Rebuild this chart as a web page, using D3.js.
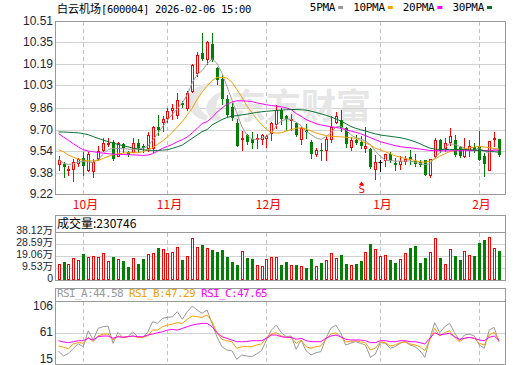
<!DOCTYPE html>
<html>
<head>
<meta charset="utf-8">
<script src="https://cdn.jsdelivr.net/npm/d3@7"></script>
<style>
  body { margin: 0; background: #fff; }
  svg { display: block; }
  .mono { font-family: "DejaVu Sans Mono", monospace; font-size: 11px; letter-spacing: -0.62px; }
  .lbl { font-family: "Liberation Sans", Arial, "Noto Sans CJK SC", sans-serif; font-size: 12px; }
  .cjk { font-family: "Noto Sans CJK SC", sans-serif; }
</style>
</head>
<body>
<script>

// ---- data ----
var priceTicks = [9.22, 9.38, 9.54, 9.70, 9.86, 10.03, 10.19, 10.35, 10.51];
var volTicks = [0, 9.53, 19.06, 28.59, 38.12];
var volTickText = ["0", "9.53万", "19.06万", "28.59万", "38.12万"];
var rsiTicks = [15, 61, 106];
var monthIdx = [5, 22, 42, 65, 85];
var monthNames = ["10月", "11月", "12月", "1月", "2月"];

var open = [9.44, 9.44, 9.40, 9.41, 9.45, 9.49, 9.40, 9.39, 9.49, 9.55,
  9.59, 9.61, 9.50, 9.59, 9.53, 9.53, 9.60, 9.58, 9.56, 9.56,
  9.72, 9.76, 9.79, 9.85, 9.81, 9.90, 9.86, 9.99, 10.12, 10.27,
  10.23, 10.34, 10.16, 10.08, 9.93, 9.87, 9.75, 9.63, 9.66, 9.63,
  9.63, 9.63, 9.64, 9.675, 9.74, 9.85, 9.80, 9.77, 9.75, 9.63,
  9.70, 9.61, 9.52, 9.55, 9.55, 9.63, 9.76, 9.77, 9.71, 9.57,
  9.62, 9.61, 9.565, 9.557, 9.41, 9.455, 9.47, 9.52, 9.45, 9.447,
  9.467, 9.494, 9.465, 9.457, 9.472, 9.36, 9.50, 9.626, 9.564, 9.606,
  9.626, 9.571, 9.502, 9.547, 9.57, 9.576, 9.502, 9.40, 9.63, 9.63];
var high = [9.50, 9.46, 9.43, 9.48, 9.49, 9.53, 9.53, 9.48, 9.58, 9.64,
  9.64, 9.62, 9.61, 9.60, 9.54, 9.64, 9.63, 9.59, 9.68, 9.73,
  9.81, 9.80, 9.86, 9.89, 9.97, 9.91, 9.99, 10.19, 10.28, 10.42,
  10.36, 10.42, 10.17, 10.11, 9.96, 9.90, 9.78, 9.69, 9.67, 9.68,
  9.67, 9.67, 9.66, 9.76, 9.88, 9.86, 9.81, 9.82, 9.76, 9.72,
  9.74, 9.62, 9.56, 9.60, 9.65, 9.80, 9.83, 9.85, 9.72, 9.645,
  9.66, 9.65, 9.72, 9.565, 9.514, 9.47, 9.52, 9.53, 9.49, 9.50,
  9.50, 9.55, 9.52, 9.477, 9.475, 9.48, 9.64, 9.63, 9.64, 9.713,
  9.66, 9.576, 9.639, 9.62, 9.60, 9.688, 9.527, 9.614, 9.681, 9.63];
var low = [9.40, 9.35, 9.36, 9.32, 9.43, 9.36, 9.39, 9.35, 9.47, 9.54,
  9.58, 9.47, 9.50, 9.53, 9.50, 9.53, 9.53, 9.53, 9.54, 9.53,
  9.66, 9.69, 9.76, 9.78, 9.79, 9.87, 9.85, 9.98, 10.10, 10.22,
  10.19, 10.21, 10.04, 9.89, 9.80, 9.77, 9.58, 9.545, 9.59, 9.56,
  9.56, 9.59, 9.57, 9.62, 9.71, 9.74, 9.70, 9.70, 9.65, 9.59,
  9.64, 9.49, 9.50, 9.47, 9.47, 9.61, 9.75, 9.69, 9.57, 9.547,
  9.59, 9.565, 9.534, 9.415, 9.333, 9.39, 9.43, 9.46, 9.40, 9.41,
  9.44, 9.447, 9.427, 9.427, 9.36, 9.35, 9.497, 9.53, 9.539, 9.589,
  9.507, 9.497, 9.497, 9.507, 9.53, 9.472, 9.353, 9.40, 9.58, 9.50];
var close = [9.47, 9.42, 9.41, 9.46, 9.48, 9.43, 9.52, 9.46, 9.54, 9.60,
  9.60, 9.48, 9.60, 9.56, 9.51, 9.60, 9.56, 9.56, 9.66, 9.72,
  9.70, 9.78, 9.84, 9.86, 9.92, 9.88, 9.97, 10.18, 10.26, 10.23,
  10.35, 10.22, 10.07, 9.93, 9.81, 9.79, 9.58, 9.64, 9.61, 9.60,
  9.64, 9.66, 9.65, 9.75, 9.85, 9.78, 9.78, 9.78, 9.66, 9.71,
  9.68, 9.52, 9.55, 9.54, 9.63, 9.72, 9.80, 9.71, 9.59, 9.62,
  9.60, 9.58, 9.58, 9.42, 9.457, 9.455, 9.52, 9.465, 9.435, 9.465,
  9.48, 9.47, 9.44, 9.435, 9.365, 9.48, 9.626, 9.54, 9.60, 9.656,
  9.514, 9.502, 9.557, 9.576, 9.55, 9.477, 9.447, 9.614, 9.64, 9.514];

// volume in 万 shares
var volume = [12.7, 14.3, 12.7, 17.2, 15.9, 20.6, 18.0, 19.1, 18.0, 21.2,
  15.1, 18.0, 16.4, 15.1, 10.1, 17.2, 12.7, 16.7, 20.6, 21.7,
  25.4, 24.4, 21.2, 22.5, 26.0, 15.9, 19.1, 33.1, 26.0, 27.8,
  25.2, 23.8, 22.2, 23.8, 18.0, 14.6, 11.9, 23.0, 17.2, 16.7,
  11.9, 11.1, 16.7, 18.3, 18.3, 11.9, 14.3, 11.9, 11.9, 11.1,
  9.8, 16.7, 11.1, 13.5, 15.9, 21.4, 17.2, 19.9, 12.7, 12.0,
  12.7, 15.1, 22.2, 28.6, 24.4, 19.1, 19.6, 15.9, 13.5, 16.7,
  21.4, 25.4, 27.0, 13.5, 17.5, 22.2, 33.1, 17.5, 12.7, 24.4,
  19.1, 15.9, 23.0, 19.6, 19.1, 29.4, 31.8, 33.9, 25.2, 23.07];

var ma5 = [9.478, 9.450, 9.440, 9.445, 9.460, 9.462, 9.460, 9.455, 9.480, 9.515,
  9.552, 9.560, 9.560, 9.557, 9.555, 9.553, 9.555, 9.560, 9.575, 9.620,
  9.670, 9.720, 9.770, 9.815, 9.855, 9.900, 9.960, 10.050, 10.110, 10.140,
  10.190, 10.228, 10.195, 10.123, 10.024, 9.924, 9.825, 9.726, 9.663, 9.631,
  9.626, 9.634, 9.651, 9.676, 9.730, 9.763, 9.780, 9.775, 9.755, 9.730,
  9.688, 9.663, 9.639, 9.626, 9.646, 9.676, 9.720, 9.725, 9.700, 9.663,
  9.639, 9.631, 9.614, 9.589, 9.539, 9.502, 9.472, 9.470, 9.465, 9.465,
  9.465, 9.467, 9.457, 9.447, 9.440, 9.445, 9.490, 9.527, 9.564, 9.596,
  9.589, 9.576, 9.564, 9.539, 9.547, 9.564, 9.539, 9.527, 9.552, 9.557];
var ma10 = [9.550, 9.535, 9.510, 9.495, 9.480, 9.472, 9.468, 9.466, 9.470, 9.485,
  9.500, 9.512, 9.520, 9.525, 9.528, 9.528, 9.528, 9.535, 9.550, 9.565,
  9.590, 9.615, 9.645, 9.680, 9.720, 9.760, 9.810, 9.860, 9.925, 9.980,
  10.024, 10.065, 10.090, 10.090, 10.085, 10.055, 10.000, 9.945, 9.880, 9.830,
  9.780, 9.740, 9.700, 9.680, 9.675, 9.676, 9.690, 9.700, 9.710, 9.713,
  9.705, 9.690, 9.675, 9.665, 9.655, 9.650, 9.648, 9.646, 9.643, 9.640,
  9.635, 9.620, 9.600, 9.585, 9.560, 9.550, 9.535, 9.520, 9.505, 9.495,
  9.485, 9.478, 9.470, 9.460, 9.457, 9.465, 9.480, 9.502, 9.520, 9.535,
  9.545, 9.552, 9.558, 9.564, 9.570, 9.576, 9.570, 9.565, 9.560, 9.552];
var ma20 = [9.670, 9.645, 9.620, 9.595, 9.570, 9.550, 9.540, 9.535, 9.530, 9.525,
  9.520, 9.518, 9.515, 9.515, 9.513, 9.512, 9.510, 9.508, 9.510, 9.520,
  9.540, 9.560, 9.575, 9.590, 9.610, 9.625, 9.645, 9.675, 9.710, 9.745,
  9.760, 9.790, 9.830, 9.860, 9.890, 9.905, 9.915, 9.915, 9.913, 9.910,
  9.900, 9.893, 9.885, 9.880, 9.875, 9.870, 9.862, 9.850, 9.820, 9.800,
  9.775, 9.760, 9.745, 9.735, 9.728, 9.722, 9.716, 9.710, 9.700, 9.690,
  9.680, 9.670, 9.655, 9.640, 9.625, 9.610, 9.600, 9.590, 9.580, 9.573,
  9.568, 9.565, 9.560, 9.555, 9.550, 9.545, 9.543, 9.542, 9.542, 9.542,
  9.543, 9.543, 9.543, 9.544, 9.544, 9.545, 9.545, 9.545, 9.546, 9.546];
var ma30 = [9.683, 9.682, 9.680, 9.678, 9.676, 9.670, 9.662, 9.648, 9.635, 9.622,
  9.610, 9.600, 9.590, 9.580, 9.572, 9.562, 9.556, 9.550, 9.547, 9.545,
  9.545, 9.547, 9.550, 9.560, 9.572, 9.585, 9.610, 9.635, 9.660, 9.685,
  9.700, 9.735, 9.755, 9.775, 9.790, 9.800, 9.805, 9.810, 9.815, 9.822,
  9.828, 9.833, 9.837, 9.840, 9.843, 9.846, 9.848, 9.850, 9.850, 9.848,
  9.845, 9.838, 9.828, 9.818, 9.808, 9.795, 9.780, 9.765, 9.745, 9.725,
  9.710, 9.700, 9.690, 9.678, 9.668, 9.660, 9.655, 9.650, 9.645, 9.640,
  9.632, 9.622, 9.610, 9.595, 9.578, 9.562, 9.555, 9.552, 9.552, 9.552,
  9.552, 9.552, 9.552, 9.550, 9.548, 9.545, 9.542, 9.538, 9.535, 9.532];

var rsiA = [29.5, 21, 25.5, 34.2, 41.7, 37, 64.4, 48.5, 68.5, 71.3,
  72.5, 42.8, 61.6, 53, 54, 62.7, 54, 53, 61.6, 79.9,
  77.1, 85.7, 87.4, 88.5, 97.1, 84, 97.1, 106.8, 100, 94.3,
  100, 77.1, 54, 37, 31.3, 30.2, 15.3, 22.7, 21, 19.8,
  24.4, 30, 48.5, 65.5, 74.1, 61, 54.1, 55.3, 32.5, 48.5,
  30.2, 22.7, 26.7, 28.5, 51.4, 68.4, 74.1, 61, 39.9, 42.8,
  45.6, 42.8, 39.9, 18.7, 24.4, 43.9, 42.8, 34.2, 37, 42.8,
  45.6, 39.9, 37, 30.2, 18.7, 51.4, 78.2, 61, 71.3, 77.1,
  61, 47.3, 57, 58.7, 55.3, 39.9, 34.2, 65.5, 70.1, 44.58];
var rsiB = [38.2, 36, 33.5, 41.7, 44, 42.8, 53, 45.6, 55.3, 58.7,
  58.7, 48.5, 55.3, 53, 54, 55.3, 53, 53, 55.3, 65.5,
  65.5, 71.3, 74.1, 75.8, 78.2, 77.1, 84, 89.7, 88.5, 87.4,
  91.4, 79.9, 61, 49.6, 47.3, 45.6, 34.2, 37, 37, 37,
  39.9, 41.7, 53, 58.7, 61, 55.3, 53, 53, 42.8, 48.5,
  37, 34.2, 37, 38.2, 49.6, 58.7, 61, 54.1, 45.6, 45.6,
  47.3, 45.6, 43.9, 31.3, 34.2, 45.6, 43.9, 38.2, 39.9, 43.9,
  45.6, 41.7, 39.9, 37, 30.2, 48.5, 68.4, 55.3, 61, 64.4,
  53, 45.6, 51.4, 53, 51.4, 42.8, 39.9, 57, 61.6, 47.29];
var rsiC = [47.3, 45, 43.9, 45.6, 47.3, 47.3, 51.4, 48.5, 54.1, 55.3,
  55.3, 51.4, 54.1, 53, 54.1, 55.3, 54.1, 54.1, 57, 58.7,
  61, 62.7, 65.5, 66.7, 65.5, 68.4, 71.3, 74.1, 75.8, 77,
  77, 71.3, 61, 54.1, 51.4, 48.5, 45.6, 45.6, 45.6, 47.3,
  47.3, 47.3, 51.4, 57, 57, 54.1, 53, 53, 49.6, 51.4,
  47.3, 45.6, 45.6, 45.6, 51.4, 55.3, 57, 54.1, 49.6, 48.5,
  48.5, 48.5, 47.3, 43.9, 43.9, 47.3, 47.3, 45.6, 45.6, 47.3,
  47.3, 45.6, 45.6, 43.9, 41.7, 51.4, 61, 57, 58.7, 59.9,
  54.1, 49.6, 51.4, 53, 51.4, 48.5, 47.3, 53, 55.3, 47.65];

var maNames = ["5PMA", "10PMA", "20PMA", "30PMA"];
var rsiNames = ["RSI_A", "RSI_B", "RSI_C"];
var signalIdx = 61;   // the red "S" marker under the candles
var lastVolume = "230746";

// ---- drawing ----
var W = 520, H = 365;
var L = 55, R = 505;
var RED = "#ff0000", GREEN = "#008000";
var maColors = ["#9b9b9b", "#f5a000", "#ff00ff", "#0b7236"];
var rsiColors = ["#999999", "#f5a000", "#ff00ff"];

var svg = d3.select("body").append("svg")
    .attr("width", W)
    .attr("height", H);

var x = d3.scaleLinear().domain([0, 89]).range([58.55, 499.1]);
var yP = d3.scaleLinear().domain([9.22, 10.51]).range([194, 21]);
var yV = d3.scaleLinear().domain([0, 38.12]).range([280, 232]);
var yR = d3.scaleLinear().domain([15, 106]).range([359.5, 306.5]);

var yPr = yP.copy().interpolate(d3.interpolateRound);
var yVr = yV.copy().interpolate(d3.interpolateRound);
var yRr = yR.copy().interpolate(d3.interpolateRound);
var xr = x.copy().interpolate(d3.interpolateRound);

function cx(i) { return Math.round(x(i)) + 0.5; }

var idx = d3.range(close.length);

// horizontal grid lines, via axes
function grid(scale, ticks) {
    var g = svg.append("g")
        .attr("transform", "translate(" + L + ",0)")
        .call(d3.axisRight(scale).tickValues(ticks).tickSize(R - L).tickFormat(""));
    g.select(".domain").remove();
    g.selectAll("line").attr("stroke", "#d2d2d2");
}
grid(yPr, priceTicks);
grid(yVr, volTicks);
grid(yRr, [61]);

// dashed month lines in every panel
var spans = [[21, 194], [232, 280], [301, 364]];
spans.forEach(function(s) {
    svg.append("g").selectAll("line")
        .data(monthIdx)
        .enter().append("line")
        .attr("x1", function(d) { return cx(d); })
        .attr("x2", function(d) { return cx(d); })
        .attr("y1", s[0] + 1)
        .attr("y2", s[1])
        .attr("stroke", "#c4c4c4")
        .attr("stroke-dasharray", "4,3");
});

// watermark
var wm = svg.append("g").attr("fill", "#e6e6e6");
wm.append("path")
    .attr("d", "M206,121 C178,112 182,86 214,82 C196,92 192,106 208,116 Z M214,121 C200,110 206,96 226,90 C214,100 214,110 222,119 Z");
wm.append("text")
    .attr("class", "cjk")
    .attr("x", 231)
    .attr("y", 119)
    .attr("font-size", 35)
    .attr("font-weight", "bold")
    .text("东方财富");

// panel borders
svg.append("g").selectAll("rect")
    .data([[21, 194], [215, 280], [288, 364]])
    .enter().append("rect")
    .attr("x", L + 0.5)
    .attr("y", function(d) { return d[0] + 0.5; })
    .attr("width", R - L)
    .attr("height", function(d) { return d[1] - d[0]; })
    .attr("fill", "none")
    .attr("stroke", "#999");
svg.append("g").selectAll("line")
    .data([232, 301])
    .enter().append("line")
    .attr("x1", L).attr("x2", R + 1)
    .attr("y1", function(d) { return d + 0.5; })
    .attr("y2", function(d) { return d + 0.5; })
    .attr("stroke", "#999");

// candles
function colorOf(i) {
    if (close[i] > open[i]) return RED;
    if (close[i] < open[i]) return GREEN;
    return "#000";
}

var candles = svg.append("g").selectAll("g")
    .data(idx)
    .enter().append("g");

candles.append("line")
    .attr("x1", cx).attr("x2", cx)
    .attr("y1", function(i) { return yPr(high[i]); })
    .attr("y2", function(i) { return yPr(low[i]) + 1; })
    .attr("stroke", colorOf);

candles.each(function(i) {
    var g = d3.select(this);
    var top = yPr(Math.max(open[i], close[i]));
    var bot = yPr(Math.min(open[i], close[i]));
    var c = cx(i);
    if (close[i] > open[i]) {
        g.append("rect")
            .attr("x", c - 1).attr("y", top + 0.5)
            .attr("width", 2).attr("height", Math.max(bot - top, 1))
            .attr("fill", "#fff").attr("stroke", RED);
    } else if (close[i] < open[i]) {
        g.append("rect")
            .attr("x", c - 1.5).attr("y", top)
            .attr("width", 3).attr("height", Math.max(bot - top, 1))
            .attr("fill", GREEN);
    } else {
        g.append("line")
            .attr("x1", c - 2).attr("x2", c + 2)
            .attr("y1", top + 0.5).attr("y2", top + 0.5)
            .attr("stroke", "#000");
    }
});

// moving averages
var mas = [ma5, ma10, ma20, ma30];
var maLine = d3.line()
    .x(function(d, i) { return x(i); })
    .y(function(d) { return yP(d); });
svg.append("g").selectAll("path")
    .data(mas)
    .enter().append("path")
    .attr("d", maLine)
    .attr("fill", "none")
    .attr("stroke", function(d, k) { return maColors[k]; })
    .attr("stroke-width", 1);

// signal marker
var sg = svg.append("g").attr("fill", RED);
sg.append("path")
    .attr("d", "M" + (cx(signalIdx) - 2.5) + ",185 L" + cx(signalIdx) + ",181.5 L" + (cx(signalIdx) + 2.5) + ",185 Z");
sg.append("text")
    .attr("class", "mono")
    .attr("x", cx(signalIdx))
    .attr("y", 193)
    .attr("text-anchor", "middle")
    .attr("font-size", 10)
    .text("S");

// volume bars
svg.append("g").selectAll("rect")
    .data(idx)
    .enter().append("rect")
    .each(function(i) {
        var t = yVr(volume[i]);
        var c = cx(i);
        var el = d3.select(this);
        if (close[i] >= open[i]) {
            el.attr("x", c - 1).attr("y", t + 0.5)
                .attr("width", 2).attr("height", 279 - t)
                .attr("fill", "#fff").attr("stroke", RED);
        } else {
            el.attr("x", c - 1.5).attr("y", t)
                .attr("width", 3).attr("height", 280 - t)
                .attr("fill", GREEN);
        }
    });

// RSI lines
var rsis = [rsiA, rsiB, rsiC];
var rsiLine = d3.line()
    .x(function(d, i) { return x(i); })
    .y(function(d) { return yR(d); });
svg.append("g").selectAll("path")
    .data(rsis)
    .enter().append("path")
    .attr("d", rsiLine)
    .attr("fill", "none")
    .attr("stroke", function(d, k) { return rsiColors[k]; })
    .attr("stroke-width", 1);

// y axes
function leftAxis(scale, ticks, fmt, shift, size) {
    var g = svg.append("g")
        .attr("transform", "translate(" + L + ",0)")
        .call(d3.axisLeft(scale).tickValues(ticks).tickSize(0).tickPadding(2).tickFormat(fmt));
    g.select(".domain").remove();
    g.attr("font-family", null).attr("font-size", null);
    g.selectAll("text")
        .attr("class", "lbl")
        .style("font-size", size + "px")
        .attr("fill", "#1b2536")
        .attr("y", shift);
    return g;
}
leftAxis(yPr, priceTicks, d3.format(".2f"), 0, 12);
leftAxis(yVr, volTicks, function(d, k) { return volTickText[k]; }, -2, 10.5);
leftAxis(yRr, rsiTicks, d3.format("d"), -1, 12);

// month labels
var xa = svg.append("g")
    .attr("transform", "translate(0,194)")
    .call(d3.axisBottom(xr).tickValues(monthIdx).tickSize(0).tickFormat(function(d, k) { return monthNames[k]; }));
xa.select(".domain").remove();
xa.attr("font-family", null).attr("font-size", null);
xa.selectAll("text")
    .attr("class", "cjk")
    .attr("font-size", 12)
    .attr("fill", RED)
    .attr("dy", null)
    .attr("y", 15)
    .attr("dx", 2);

// title
var title = svg.append("text").attr("x", 57).attr("y", 13).attr("fill", "#000");
title.append("tspan").attr("class", "cjk").attr("font-size", 11).text("白云机场");
title.append("tspan").attr("class", "mono").style("font-size", "10.5px").style("letter-spacing", "-0.32px")
    .text("[600004] 2026-02-06 15:00");

// legend, laid out from the right
var legend = svg.append("g");
var endX = 492;
for (var k = maNames.length - 1; k >= 0; k--) {
    legend.append("rect")
        .attr("x", endX - 5).attr("y", 6)
        .attr("width", 5).attr("height", 3)
        .attr("fill", maColors[k]);
    var t = legend.append("text")
        .attr("class", "mono")
        .attr("font-size", 10)
        .style("letter-spacing", "-0.3px")
        .attr("x", endX - 8)
        .attr("y", 11)
        .attr("text-anchor", "end")
        .attr("fill", "#000")
        .text(maNames[k]);
    endX = endX - 8 - t.node().getComputedTextLength() - 10;
}

// volume header
svg.append("text")
    .attr("class", "cjk")
    .attr("x", 57).attr("y", 228)
    .attr("font-size", 12)
    .attr("fill", "#000")
    .text("成交量:" + lastVolume);

// RSI header
var rh = svg.append("text").attr("class", "mono").attr("x", 57).attr("y", 296.5);
rsiNames.forEach(function(n, k) {
    var s = rsis[k];
    rh.append("tspan")
        .attr("fill", rsiColors[k])
        .text((k ? " " : "") + n + ":" + s[s.length - 1].toFixed(2));
});

</script>
</body>
</html>
